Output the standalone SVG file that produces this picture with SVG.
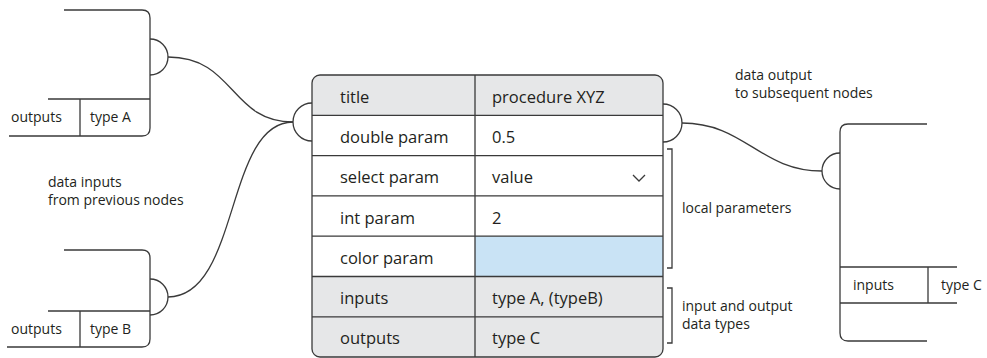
<svg xmlns="http://www.w3.org/2000/svg" width="987" height="358" viewBox="0 0 987 358">
  <style>
    .ln { fill: none; stroke: #3a3a3a; stroke-width: 1.3; }
    .t { font-family: "Open Sans", "Liberation Sans", sans-serif; fill: #231f20; }
    .tbl { font-size: 16.5px; }
    .nl { font-size: 14px; }
    .lbl { font-size: 14px; }
  </style>
  <rect width="987" height="358" fill="#ffffff"/>

  <!-- upstream node A -->
  <g id="node-a">
    <path class="ln" d="M64,10 H142 Q150,10 150,18 V128 Q150,136 142,136 H9"/>
    <path class="ln" d="M48,99 H150 M80,99 V136"/>
    <path class="ln" d="M150,39 A18,18 0 0 1 150,75"/>
    <text class="t nl" x="11" y="122">outputs</text>
    <text class="t nl" x="90" y="122">type A</text>
  </g>

  <!-- upstream node B -->
  <g id="node-b">
    <path class="ln" d="M64,250 H142 Q150,250 150,258 V339 Q150,347 142,347 H7"/>
    <path class="ln" d="M48,311 H150 M80,311 V347"/>
    <path class="ln" d="M150,279 A18,18 0 0 1 150,315"/>
    <text class="t nl" x="11" y="334">outputs</text>
    <text class="t nl" x="90" y="334">type B</text>
  </g>

  <!-- processing node -->
  <g id="node-main">
    <clipPath id="mainClip">
      <rect x="312" y="75" width="351" height="282" rx="8"/>
    </clipPath>
    <g clip-path="url(#mainClip)">
      <rect x="312" y="75" width="351" height="40.3" fill="#e6e7e8"/>
      <rect x="312" y="115.3" width="351" height="161.2" fill="#ffffff"/>
      <rect x="475" y="236.2" width="188" height="40.3" fill="#c9e3f5"/>
      <rect x="312" y="276.5" width="351" height="80.5" fill="#e6e7e8"/>
    </g>
    <path class="ln" d="M312,115.3 H663 M312,155.6 H663 M312,195.9 H663 M312,236.2 H663 M312,276.5 H663 M312,316.8 H663 M475,75 V357"/>
    <rect class="ln" x="312" y="75" width="351" height="282" rx="8"/>
    <path class="ln" d="M312,103 A19,19 0 0 0 312,141"/>
    <path class="ln" d="M663,104 A19,19 0 0 1 663,142"/>
    <path class="ln" d="M633,175 L639,181 L645,175"/>
    <text class="t tbl" x="340" y="103">title</text>
    <text class="t tbl" x="492" y="103">procedure XYZ</text>
    <text class="t tbl" x="340" y="143">double param</text>
    <text class="t tbl" x="492" y="143">0.5</text>
    <text class="t tbl" x="340" y="183">select param</text>
    <text class="t tbl" x="492" y="183">value</text>
    <text class="t tbl" x="340" y="224">int param</text>
    <text class="t tbl" x="492" y="224">2</text>
    <text class="t tbl" x="340" y="264">color param</text>
    <text class="t tbl" x="340" y="304">inputs</text>
    <text class="t tbl" x="492" y="304">type A, (typeB)</text>
    <text class="t tbl" x="340" y="344">outputs</text>
    <text class="t tbl" x="492" y="344">type C</text>
  </g>

  <!-- downstream node C -->
  <g id="node-c">
    <path class="ln" d="M927,124 H848 Q840,124 840,132 V333 Q840,341 848,341 H927"/>
    <path class="ln" d="M840,267 H957 M840,303 H957 M928,267 V303"/>
    <path class="ln" d="M840,153 A18,18 0 0 0 840,189"/>
    <text class="t nl" x="853" y="290">inputs</text>
    <text class="t nl" x="941" y="290">type C</text>
  </g>

  <!-- connectors -->
  <g id="connectors">
    <path class="ln" d="M168,57 C235,57 230,122 293,122"/>
    <path class="ln" d="M168,297 C240,297 225,122 293,122"/>
    <path class="ln" d="M682,123 C745,123 760,171 822,171"/>
  </g>

  <!-- annotations -->
  <g id="annotations">
    <path class="ln" d="M667,149 H672 V268 H667"/>
    <path class="ln" d="M667,288 H672 V343 H667"/>
    <text class="t lbl" x="48" y="187">data inputs</text>
    <text class="t lbl" x="48" y="205">from previous nodes</text>
    <text class="t lbl" x="735" y="80">data output</text>
    <text class="t lbl" x="735" y="98">to subsequent nodes</text>
    <text class="t lbl" x="682" y="213">local parameters</text>
    <text class="t lbl" x="682" y="311">input and output</text>
    <text class="t lbl" x="682" y="329">data types</text>
  </g>
</svg>
